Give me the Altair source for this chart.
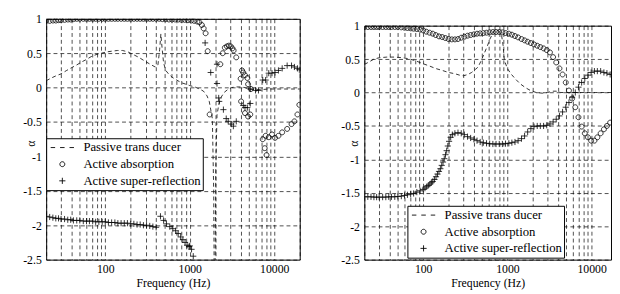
import altair as alt
import pandas as pd

FONT = "Liberation Serif, Times New Roman, serif"
SERIES = ["Passive trans ducer", "Active absorption", "Active super-reflection"]

# ---------------- left panel ----------------
L_pas_f = [20, 23, 26, 30, 35, 40, 46, 52, 60, 68, 78, 90, 105, 120, 140, 160, 185, 215, 250, 290,
           340, 390, 420, 440, 455, 470, 490, 520, 560, 620, 700, 800, 900, 1000, 1150, 1300, 1450,
           1600, 1700, 1850, 1920, 1950, 1990, 2030, 2100, 2200, 2350, 2550, 2800, 3100, 3500, 4000,
           4500, 5000, 6000, 7000, 8500, 10000, 13000, 16000, 20000]
L_pas_v = [0.10, 0.14, 0.17, 0.20, 0.25, 0.29, 0.33, 0.37, 0.41, 0.45, 0.48, 0.50, 0.52, 0.53, 0.54,
           0.54, 0.52, 0.48, 0.44, 0.39, 0.34, 0.30, 0.33, 0.55, 0.78, 0.58, 0.36, 0.25, 0.20, 0.15,
           0.11, 0.07, 0.05, 0.03, 0.01, -0.02, -0.05, -0.12, -0.20, -0.45, -1.5, -3.0, -3.0, -1.2,
           -0.40, -0.25, -0.14, -0.07, -0.03, 0.0, 0.01, 0.01, 0.0, -0.02, -0.03, -0.03, -0.02, -0.02,
           -0.02, -0.02, -0.02]

L_abs_f = [20, 22, 24, 26, 28, 30, 33, 36, 39, 42, 46, 50, 55, 60, 65, 71, 77, 84, 92, 100, 109, 119,
           130, 141, 154, 168, 183, 200, 218, 238, 259, 283, 308, 336, 366, 400, 436, 475, 518, 565,
           616, 672, 733, 800, 872, 950, 1040, 1130, 1230, 1300, 1390, 1460, 1540, 1630, 1720,
           2300, 2450, 2600, 2750, 2900, 3050, 3200, 3300, 3550, 4000, 4150, 4300, 4500, 4800,
           4900, 5300, 4050, 4500, 4900, 5200, 7300, 7700, 7900, 8100, 8600, 9400, 10200, 11200,
           12400, 14200, 16000, 17300, 18800, 19800]
L_abs_v = [0.97, 0.97, 0.975, 0.975, 0.98, 0.98, 0.985, 0.99, 0.99, 0.995, 1.0, 1.0, 1.0, 1.0, 1.0,
           1.0, 1.0, 1.0, 1.0, 1.0, 1.0, 1.0, 1.0, 1.0, 1.0, 1.0, 1.0, 1.0, 1.0, 1.0, 1.0, 1.0, 1.0,
           1.0, 1.0, 1.0, 1.0, 0.995, 0.995, 0.99, 0.99, 0.99, 0.99, 0.985, 0.985, 0.98, 0.975, 0.97,
           0.96, 0.95, 0.91, 0.86, 0.79, 0.53, -0.39,
           0.34, 0.50, 0.58, 0.60, 0.61, 0.60, 0.57, 0.54, 0.44, 0.13, 0.25, 0.22, 0.18, 0.14,
           0.05, -0.02, -0.20, -0.37, -0.42, -0.39, -0.75, -0.88, -0.70, -0.98, -0.72, -0.68, -0.73,
           -0.70, -0.65, -0.60, -0.53, -0.49, -0.39, -0.25]

L_sup_f = [20, 22, 24, 26, 28, 30, 33, 36, 39, 42, 46, 50, 55, 60, 65, 71, 77, 84, 92, 100, 109, 119,
           130, 141, 154, 168, 183, 200, 218, 238, 259, 283, 308, 336, 366, 400, 450, 490, 530, 580,
           630, 680, 730, 780, 830, 880, 930, 980, 1000, 1050, 1100,
           1520, 1770, 2100, 2100, 2230, 2200, 2500, 2700, 2850, 3100, 3280, 3550, 4300, 4500, 4800,
           5200, 5200, 6000, 6500, 7300, 7900, 8600, 9400, 10200, 11200, 12400, 14200, 16000, 17300,
           18800, 19800]
L_sup_v = [-1.87, -1.88, -1.89, -1.90, -1.90, -1.91, -1.91, -1.92, -1.92, -1.93, -1.93, -1.93, -1.94,
           -1.94, -1.94, -1.94, -1.95, -1.95, -1.95, -1.95, -1.96, -1.96, -1.96, -1.97, -1.97, -1.97,
           -1.97, -1.98, -1.98, -1.99, -1.99, -2.0, -2.0, -2.01, -2.02, -2.03, -1.87, -1.93, -1.98,
           -2.02, -2.05, -2.08, -2.12, -2.17, -2.21, -2.25, -2.29, -2.31, -2.30, -2.35, -2.45,
           0.65, 0.22, 0.34, 0.06, -0.20, -0.15, -0.32, -0.45, -0.49, -0.53, -0.56, -0.49, -0.26,
           -0.29, -0.29, -0.23, -0.02, -0.04, -0.04, 0.11, 0.11, 0.21, 0.21, 0.22, 0.25, 0.28, 0.32,
           0.32, 0.30, 0.28, 0.26]

# ---------------- right panel ----------------
R_pas_f = [20, 23, 26, 30, 37, 45, 58, 70, 83, 100, 117, 140, 169, 200, 240, 270, 300, 340, 376, 420,
           448, 490, 537, 580, 620, 680, 720, 780, 850, 890, 920, 1000, 1100, 1250, 1420, 1650, 1880,
           2200, 2600, 3000, 3400, 3800, 4300, 5000, 6500, 8500, 11000, 14000, 17000]
R_pas_v = [0.42, 0.46, 0.50, 0.52, 0.53, 0.53, 0.52, 0.50, 0.47, 0.43, 0.40, 0.36, 0.33, 0.30, 0.28,
           0.26, 0.25, 0.27, 0.30, 0.35, 0.38, 0.48, 0.60, 0.70, 0.80, 0.90, 0.94, 0.93, 0.87, 0.70,
           0.48, 0.36, 0.28, 0.20, 0.13, 0.07, 0.03, 0.0, -0.01, 0.0, 0.02, 0.02, 0.0, 0.0, 0.0, 0.0,
           0.0, 0.0, 0.0]

R_abs_f = [20, 22, 24, 26, 28, 30, 33, 36, 39, 42, 46, 50, 55, 60, 65, 71, 77, 84, 92, 100, 109, 119,
           130, 141, 154, 168, 183, 200, 218, 238, 259, 283, 308, 336, 366, 400, 436, 475, 518, 565,
           616, 672, 733, 800, 872, 950, 1040, 1130, 1230, 1340, 1470, 1600, 1740, 1900, 2070, 2260,
           2460, 2690, 2930, 3200, 3490, 3800, 4150, 4520, 4930, 5380, 5870, 6400, 6980, 7610, 8300,
           9050, 9870, 10800, 11700, 12800, 14000, 15200, 16600]
R_abs_v = [0.98, 0.98, 0.98, 0.98, 0.98, 0.98, 0.98, 0.98, 0.98, 0.98, 0.98, 0.98, 0.975, 0.97, 0.965,
           0.96, 0.955, 0.95, 0.94, 0.93, 0.91, 0.895, 0.88, 0.86, 0.84, 0.83, 0.815, 0.80, 0.795,
           0.795, 0.80, 0.82, 0.835, 0.85, 0.86, 0.87, 0.88, 0.885, 0.89, 0.895, 0.90, 0.905, 0.905,
           0.905, 0.90, 0.89, 0.88, 0.865, 0.845, 0.825, 0.80, 0.78, 0.76, 0.74, 0.72, 0.70, 0.68,
           0.66, 0.635, 0.60, 0.53, 0.45, 0.36, 0.27, 0.15, 0.03, -0.09, -0.22, -0.37, -0.51, -0.61,
           -0.67, -0.72, -0.72, -0.67, -0.61, -0.55, -0.50, -0.45]

R_sup_f = [20, 22, 24, 26, 28, 30, 33, 36, 39, 42, 46, 50, 55, 60, 65, 71, 77, 84, 92, 100, 105, 110,
           115, 120, 125, 130, 136, 142, 148, 154, 160, 166, 172, 178, 184, 190, 196, 203, 212, 222,
           238, 259, 283, 308, 336, 366, 400, 436, 475, 518, 565, 616, 672, 733, 800, 872, 950, 1040,
           1130, 1230, 1340, 1470, 1600, 1740, 1900, 2070, 2260, 2460, 2690, 2930, 3200, 3490, 3800,
           4150, 4520, 4930, 5380, 5870, 6400, 6980, 7610, 8300, 9050, 9870, 10800, 11700, 12800,
           14000, 15200, 16600]
R_sup_v = [-1.56, -1.56, -1.56, -1.565, -1.565, -1.565, -1.565, -1.565, -1.56, -1.56, -1.56, -1.555,
           -1.55, -1.54, -1.53, -1.52, -1.51, -1.49, -1.47, -1.45, -1.43, -1.41, -1.39, -1.37, -1.35,
           -1.33, -1.30, -1.26, -1.22, -1.18, -1.14, -1.09, -1.04, -0.99, -0.93, -0.87, -0.80, -0.73,
           -0.67, -0.63, -0.61, -0.60, -0.61, -0.63, -0.66, -0.68, -0.70, -0.72, -0.74, -0.75, -0.76,
           -0.765, -0.77, -0.77, -0.77, -0.77, -0.765, -0.76, -0.75, -0.74, -0.72, -0.69, -0.65,
           -0.59, -0.54, -0.51, -0.50, -0.50, -0.50, -0.49, -0.47, -0.44, -0.40, -0.35, -0.29, -0.22,
           -0.15, -0.07, 0.0, 0.08, 0.15, 0.21, 0.26, 0.30, 0.32, 0.32, 0.32, 0.30, 0.29, 0.27]

Y_TICKS = [1, 0.5, 0, -0.5, -1, -1.5, -2, -2.5]
GRID_L = [20, 30, 40, 50, 60, 70, 80, 90, 100, 200, 300, 400, 500, 600, 700, 800, 900,
          1000, 2000, 3000, 4000, 5000, 6000, 7000, 8000, 9000, 10000, 20000]
GRID_R = [20, 30, 40, 50, 60, 70, 80, 90, 100, 200, 300, 400, 500, 600, 700, 800, 900,
          1000, 2000, 3000, 4000, 5000, 6000, 7000, 8000, 9000, 10000]

# legend/marker glyphs (unit path, scaled by sqrt(size)/2 = 7 px)
DASH = "M-1.7,0L-1.05,0M-0.33,0L0.33,0M1.05,0L1.7,0"
CIRC = "M-0.36,0A0.36,0.36,0,1,0,0.36,0A0.36,0.36,0,1,0,-0.36,0Z"
PLUS = "M-0.45,0L0.45,0M0,-0.45L0,0.45"
SYM_SIZE = 196


def panel(pas_f, pas_v, abs_f, abs_v, sup_f, sup_v, xmax, grid_vals, w, h,
          leg_x, leg_y, ttl_x, ttl_y):
    pas = pd.DataFrame({"f": pas_f, "v": pas_v})
    pts = pd.concat([
        pd.DataFrame({"f": abs_f, "v": abs_v, "s": SERIES[1]}),
        pd.DataFrame({"f": sup_f, "v": sup_v, "s": SERIES[2]}),
    ])
    x = alt.X("f:Q", scale=alt.Scale(type="log", domain=[20, xmax], nice=False),
              axis=alt.Axis(values=grid_vals, title="Frequency (Hz)", labelOverlap=False,
                            labelFlush=False, labelPadding=4, titlePadding=3,
                            labelExpr="datum.value == 100 || datum.value == 1000 || datum.value == 10000 ? toString(datum.value) : ''"))
    y = alt.Y("v:Q", scale=alt.Scale(domain=[-2.5, 1], nice=False, zero=False),
              axis=alt.Axis(values=Y_TICKS, title="α", labelPadding=5, labelFlush=False,
                            labelExpr="toString(datum.value)", titleAngle=270,
                            titleX=ttl_x, titleY=ttl_y, titleAlign="center",
                            titleBaseline="middle"))
    line = alt.Chart(pas).mark_line(color="black", strokeDash=[4, 3], strokeWidth=0.8,
                                    clip=True).encode(x=x, y=y)
    points = alt.Chart(pts).mark_point(filled=False, color="black", size=SYM_SIZE, strokeWidth=0.8,
                                       opacity=1, clip=True).encode(
        x=x, y=y,
        shape=alt.Shape("s:N", scale=alt.Scale(domain=SERIES, range=[DASH, CIRC, PLUS]),
                        legend=alt.Legend(title=None, orient="none", legendX=leg_x, legendY=leg_y,
                                          direction="vertical", strokeColor="black",
                                          fillColor="white", padding=2, labelFont=FONT,
                                          labelFontSize=13, labelColor="black", labelOffset=14,
                                          symbolOffset=7, symbolSize=SYM_SIZE,
                                          symbolStrokeColor="black", symbolStrokeWidth=0.9,
                                          rowPadding=2, labelLimit=300)))
    return alt.layer(line, points).properties(width=w, height=h)


left = panel(L_pas_f, L_pas_v, L_abs_f, L_abs_v, L_sup_f, L_sup_v, 20000, GRID_L, 259, 246,
             0, 122, -16, 127)
right = panel(R_pas_f, R_pas_v, R_abs_f, R_abs_v, R_sup_f, R_sup_v, 17000, GRID_R, 252, 239,
              44, 191, -11, 120)

spacer = alt.Chart(pd.DataFrame({"a": [0]})).mark_point(opacity=0).encode(
    x=alt.value(0), y=alt.value(0)
).properties(width=252, height=1, view=alt.ViewBackground(stroke="transparent"))

right_col = alt.vconcat(spacer, right, spacing=6, bounds="flush")

chart = alt.hconcat(left, right_col, spacing=66, bounds="flush").resolve_scale(
    shape="independent", x="independent", y="independent"
).resolve_legend(shape="independent").properties(
    padding={"left": 14, "top": 1, "right": 0, "bottom": 0}
).configure_view(stroke="black", strokeWidth=1).configure_axis(
    grid=True, gridColor="black", gridDash=[4, 3], gridWidth=0.7, gridOpacity=1,
    domain=False, ticks=False, tickSize=0, labelFont=FONT, labelFontSize=12, labelColor="black",
    titleFont=FONT, titleFontSize=12, titleFontWeight="normal", titleColor="black"
)

chart.save("out.html", embed_options={"renderer": "svg", "actions": False})
